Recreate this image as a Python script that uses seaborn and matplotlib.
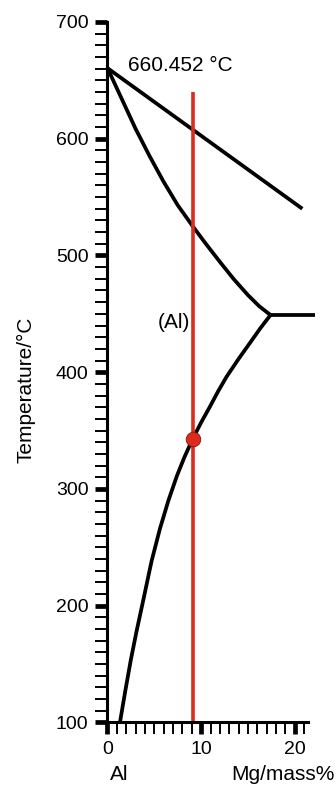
import numpy as np
import pandas as pd
import matplotlib
matplotlib.use("Agg")
import matplotlib.pyplot as plt
from matplotlib.ticker import MultipleLocator
import seaborn as sns

# === DANE ===
liq_x = [0.0, 20.8]
liq_t = [660.452, 540.0]

sol_x = [0.0, 1.5, 3.0, 4.5, 6.0, 7.5, 9.1, 10.5, 12.0, 13.5, 15.0, 16.2, 17.4]
sol_t = [660.452, 634.5, 608.5, 585.0, 563.0, 543.0, 525.0, 510.0, 494.5, 479.5, 466.0, 456.5, 449.0]

solv_x = [17.4, 16.3, 15.2, 14.0, 12.7, 11.8, 10.9, 10.0, 9.1, 8.2, 7.4, 6.5,
          5.6, 4.7, 3.8, 3.1, 2.5, 1.9, 1.33]
solv_t = [449.0, 437.5, 425.0, 411.5, 396.0, 383.5, 370.0, 357.0, 343.0, 327.0, 311.0, 290.0,
          266.0, 238.0, 204.0, 178.0, 154.0, 127.0, 100.0]

eut_x = [17.4, 22.2]
eut_t = [449.0, 449.0]

alloy_x = [9.1, 9.1]
alloy_t = [100.0, 640.0]

point_x = [9.1]
point_t = [343.0]

x_ticks = [0, 10, 20]
y_ticks = [100, 200, 300, 400, 500, 600, 700]

RED = "#dc2a1e"

sns.set_style("ticks", {"text.color": "black", "axes.labelcolor": "black",
                        "xtick.color": "black", "ytick.color": "black",
                        "axes.edgecolor": "black"})
plt.rcParams["font.family"] = ["Liberation Sans", "DejaVu Sans"]

fig = plt.figure(figsize=(3.36, 7.87), dpi=100)
ax = fig.add_axes([0.3199, 0.0820, 0.5967, 0.8901])

# krzywe diagramu fazowego
for xs, ts in [(liq_x, liq_t), (sol_x, sol_t), (solv_x, solv_t), (eut_x, eut_t)]:
    sns.lineplot(x=xs, y=ts, ax=ax, color="black", linewidth=2.7,
                 estimator=None, sort=False)

# linia składu stopu + punkt
sns.lineplot(x=alloy_x, y=alloy_t, ax=ax, color=RED, linewidth=2.6,
             estimator=None, sort=False)
sns.scatterplot(x=point_x, y=point_t, ax=ax, color=RED, s=110,
                edgecolor="#7a1a12", linewidth=0.6, zorder=5)

for line in ax.lines:
    line.set_clip_on(False)
    line.set_solid_capstyle("butt")
    line.set_solid_joinstyle("round")

ax.set_xlim(0, 21.4)
ax.set_ylim(100, 700)

sns.despine(ax=ax)
for side in ["left", "bottom"]:
    ax.spines[side].set_linewidth(2.2)
    ax.spines[side].set_color("black")

ax.xaxis.set_major_locator(plt.FixedLocator(x_ticks))
ax.xaxis.set_minor_locator(MultipleLocator(1))
ax.yaxis.set_major_locator(plt.FixedLocator(y_ticks))
ax.yaxis.set_minor_locator(MultipleLocator(10))
ax.tick_params(which="major", direction="out", length=8.6, width=3.4,
               color="black", labelcolor="black", labelsize=14, pad=5)
ax.tick_params(which="minor", direction="out", length=8.6, width=1.4,
               color="black")

ax.set_xlabel("")
ax.set_ylabel("Temperature/°C", fontsize=15, color="black")
ax.yaxis.set_label_coords(-0.36, 0.475)

ax.text(2.2, 663, "660.452 °C", fontsize=15, ha="left", va="center", color="black")
ax.text(8.8, 443, "(Al)", fontsize=15, ha="right", va="center", color="black")

fig.text(110 / 336, 1 - 775 / 787, "Al", fontsize=15, ha="left", va="center", color="black")
fig.text(335 / 336, 1 - 775 / 787, "Mg/mass%", fontsize=15, ha="right", va="center", color="black")

fig.savefig("out.png", dpi=100)
